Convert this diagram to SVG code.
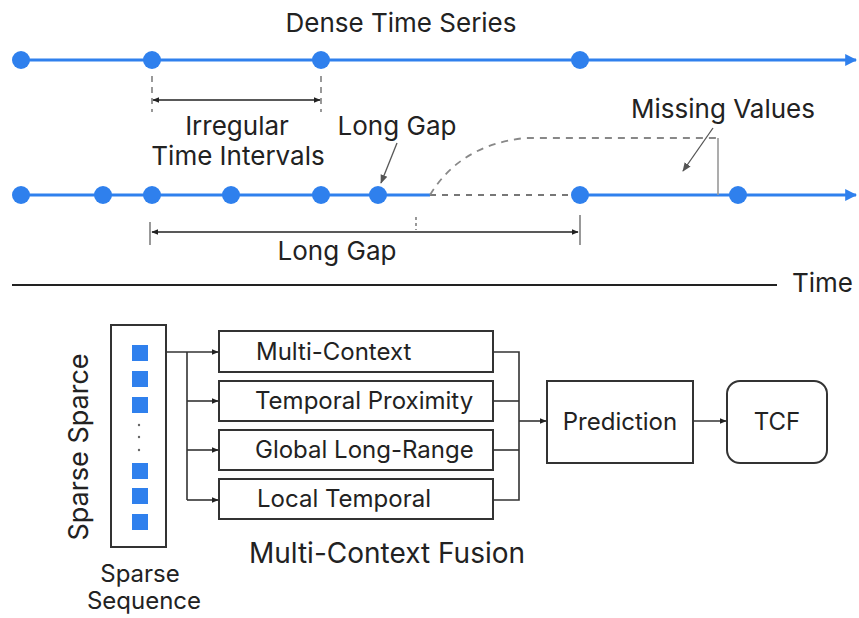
<svg xmlns="http://www.w3.org/2000/svg" width="859" height="618" viewBox="0 0 859 618">
<defs>
<marker id="ah" viewBox="0 0 10 10" refX="9" refY="5" markerWidth="7" markerHeight="7" markerUnits="userSpaceOnUse" orient="auto-start-reverse"><path d="M0,1 L10,5 L0,9 z" fill="#222"/></marker>
<marker id="ahb" viewBox="0 0 10 10" refX="9" refY="5" markerWidth="12" markerHeight="12" markerUnits="userSpaceOnUse" orient="auto"><path d="M0,0 L10,5 L0,10 z" fill="#2f80ed"/></marker>
<marker id="ahg" viewBox="0 0 10 10" refX="9" refY="5" markerWidth="9" markerHeight="9" markerUnits="userSpaceOnUse" orient="auto"><path d="M0,1 L10,5 L0,9 z" fill="#555"/></marker>
</defs>
<style>
text{font-family:Inter,"Liberation Sans",Arial,sans-serif;fill:#222}
.t{font-size:26px}
.b{font-size:24px}
.tl{stroke:#2f80ed;stroke-width:3;fill:none}
.dot{fill:#2f80ed}
.box{fill:#fff;stroke:#333;stroke-width:2}
.ln{stroke:#333;stroke-width:1.6;fill:none}
.dim{stroke:#222;stroke-width:1.5;fill:none}
.tick{stroke:#555;stroke-width:1.2;fill:none}
.sq{fill:#2f80ed}
</style>
<rect width="859" height="618" fill="#fff"/>

<g id="dense-series">
<text class="t" x="401" y="32" text-anchor="middle" font-size="26.5">Dense Time Series</text>
<line class="tl" x1="20" y1="60" x2="856" y2="60" marker-end="url(#ahb)"/>
<circle class="dot" cx="21" cy="60" r="9"/>
<circle class="dot" cx="152" cy="60" r="9"/>
<circle class="dot" cx="321" cy="60" r="9"/>
<circle class="dot" cx="580" cy="60" r="9"/>
</g>

<g id="irregular-intervals">
<line class="tick" x1="152" y1="76" x2="152" y2="112" stroke-dasharray="6,5"/>
<line class="tick" x1="321" y1="76" x2="321" y2="112" stroke-dasharray="6,5"/>
<line class="dim" x1="153" y1="100" x2="320" y2="100" marker-start="url(#ah)" marker-end="url(#ah)"/>
<text class="t" x="237" y="135" text-anchor="middle">Irregular</text>
<text class="t" x="238" y="165" text-anchor="middle" font-size="25">Time Intervals</text>
</g>

<g id="sparse-series">
<line class="tl" x1="20" y1="195" x2="430" y2="195"/>
<line x1="430" y1="195" x2="575" y2="195" stroke="#777" stroke-width="2" stroke-dasharray="6,6"/>
<line class="tl" x1="580" y1="195" x2="856" y2="195" marker-end="url(#ahb)"/>
<circle class="dot" cx="21" cy="195" r="9"/>
<circle class="dot" cx="103" cy="195" r="9"/>
<circle class="dot" cx="152" cy="195" r="9"/>
<circle class="dot" cx="231" cy="195" r="9"/>
<circle class="dot" cx="321" cy="195" r="9"/>
<circle class="dot" cx="378" cy="195" r="9"/>
<circle class="dot" cx="580" cy="195" r="9"/>
<circle class="dot" cx="738" cy="195" r="9"/>
</g>

<g id="long-gap-label">
<text class="t" x="397" y="135" text-anchor="middle">Long Gap</text>
<line x1="397" y1="143" x2="381" y2="183" stroke="#555" stroke-width="1.3" marker-end="url(#ahg)"/>
</g>

<g id="missing-values">
<path d="M430,195 Q460,145 525,138 L718,138" fill="none" stroke="#888" stroke-width="1.8" stroke-dasharray="7,6"/>
<line x1="718" y1="138" x2="718" y2="195" stroke="#999" stroke-width="1.6"/>
<text class="t" x="723" y="118" text-anchor="middle">Missing Values</text>
<line x1="713" y1="128" x2="683" y2="171" stroke="#555" stroke-width="1.3" marker-end="url(#ahg)"/>
</g>

<g id="long-gap-span">
<line class="tick" x1="150" y1="222" x2="150" y2="245"/>
<line class="tick" x1="580" y1="215" x2="580" y2="245"/>
<line class="tick" x1="416" y1="217" x2="416" y2="230" stroke-dasharray="3,3"/>
<line class="dim" x1="152" y1="232" x2="578" y2="232" marker-start="url(#ah)" marker-end="url(#ah)"/>
<text class="t" x="337" y="260" text-anchor="middle">Long Gap</text>
</g>

<g id="time-axis">
<line x1="12" y1="285" x2="777" y2="285" stroke="#222" stroke-width="2"/>
<text class="t" x="792" y="292">Time</text>
</g>

<g id="sparse-sequence">
<rect class="box" x="111" y="325" width="55" height="222" stroke-width="1.8"/>
<rect class="sq" x="132" y="345" width="16" height="16"/>
<rect class="sq" x="132" y="371" width="16" height="16"/>
<rect class="sq" x="132" y="397" width="16" height="16"/>
<circle cx="139" cy="425" r="1.2" fill="#666"/>
<circle cx="139" cy="437" r="1.2" fill="#666"/>
<circle cx="139" cy="450" r="1.2" fill="#666"/>
<rect class="sq" x="132" y="463" width="16" height="16"/>
<rect class="sq" x="132" y="488" width="16" height="16"/>
<rect class="sq" x="132" y="514" width="16" height="16"/>
<text x="0" y="0" text-anchor="middle" font-size="27" transform="translate(88,447) rotate(-90)">Sparse Sparce</text>
<text class="b" x="140" y="582" text-anchor="middle">Sparse</text>
<text class="b" x="144" y="609" text-anchor="middle">Sequence</text>
</g>

<g id="multi-context">
<rect class="box" x="219" y="331" width="274" height="41"/>
<text class="b" x="256" y="360">Multi-Context</text>
</g>
<g id="temporal-proximity">
<rect class="box" x="219" y="381" width="274" height="40"/>
<text class="b" x="255" y="409">Temporal Proximity</text>
</g>
<g id="global-long-range">
<rect class="box" x="219" y="430" width="274" height="40"/>
<text class="b" x="255" y="458">Global Long-Range</text>
</g>
<g id="local-temporal">
<rect class="box" x="219" y="479" width="274" height="40"/>
<text class="b" x="257" y="507">Local Temporal</text>
</g>
<g id="fusion-label">
<text x="387" y="563" text-anchor="middle" font-size="28">Multi-Context Fusion</text>
</g>

<g id="prediction">
<rect class="box" x="547" y="381" width="146" height="82"/>
<text class="b" x="620" y="430" text-anchor="middle">Prediction</text>
</g>
<g id="tcf">
<rect class="box" x="727" y="381" width="100" height="82" rx="13"/>
<text class="b" x="777" y="430" text-anchor="middle">TCF</text>
</g>

<g id="connectors">
<line class="ln" x1="166" y1="352" x2="218" y2="352" marker-end="url(#ah)"/>
<line class="ln" x1="187" y1="352" x2="187" y2="500"/>
<line class="ln" x1="187" y1="401" x2="218" y2="401" marker-end="url(#ah)"/>
<line class="ln" x1="187" y1="450" x2="218" y2="450" marker-end="url(#ah)"/>
<line class="ln" x1="187" y1="500" x2="218" y2="500" marker-end="url(#ah)"/>
<polyline class="ln" points="493,352 519,352 519,500 493,500"/>
<line class="ln" x1="493" y1="401" x2="519" y2="401"/>
<line class="ln" x1="493" y1="450" x2="519" y2="450"/>
<line class="ln" x1="519" y1="421" x2="546" y2="421" marker-end="url(#ah)"/>
<line class="ln" x1="693" y1="421" x2="726" y2="421" marker-end="url(#ah)"/>
</g>
</svg>
